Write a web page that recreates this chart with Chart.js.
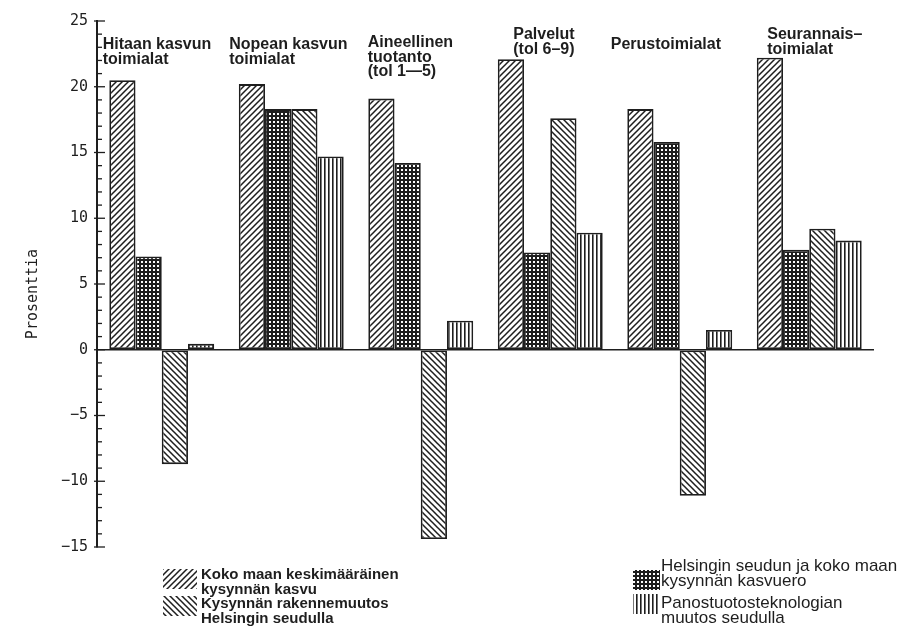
<!DOCTYPE html>
<html>
<head>
<meta charset="utf-8">
<script src="https://cdn.jsdelivr.net/npm/chart.js@4.4.0/dist/chart.umd.min.js"></script>
<style>
  body { margin: 0; background: #fff; }
  #wrap { width: 907px; height: 627px; position: relative; }
</style>
</head>
<body>
<div id="wrap"><canvas id="chart"></canvas></div>
<script>
// group labels (multi-line)
const categories = [
  ['Hitaan kasvun', 'toimialat'],
  ['Nopean kasvun', 'toimialat'],
  ['Aineellinen', 'tuotanto', '(tol 1\u20145)'],
  ['Palvelut', '(tol 6\u20139)'],
  ['Perustoimialat'],
  ['Seurannais\u2013', 'toimialat']
];

// series values, percent
const kokoMaa  = [20.5, 20.2, 19.1, 22.1, 18.3, 22.2];
const kasvuero = [7.1, 18.3, 14.2, 7.4, 15.8, 7.6];
const rakenne  = [-8.7, 18.3, -14.4, 17.6, -11.1, 9.2];
const panos    = [0.45, 14.7, 2.2, 8.9, 1.5, 8.3];

const seriesNames = [
  ['Koko maan keskimääräinen', 'kysynnän kasvu'],
  ['Helsingin seudun ja koko maan', 'kysynnän kasvuero'],
  ['Kysynnän rakennemuutos', 'Helsingin seudulla'],
  ['Panostuotosteknologian', 'muutos seudulla']
];

// label placement relative to group centre
const labelDx = [-59, -62, -53, -37, -69, -42];
const labelTop = [45, 45, 43, 35, 45, 35];

const INK = '#1e1e1e';

function makePattern(kind) {
  const s = 6;
  const c = document.createElement('canvas');
  c.width = s; c.height = s;
  const g = c.getContext('2d');
  g.fillStyle = '#fff';
  g.fillRect(0, 0, s, s);
  g.strokeStyle = INK;
  g.fillStyle = INK;
  g.lineWidth = 1.5;
  if (kind === 'up') {
    g.beginPath();
    g.moveTo(-1, s + 1); g.lineTo(s + 1, -1);
    g.moveTo(-1, 1); g.lineTo(1, -1);
    g.moveTo(s - 1, s + 1); g.lineTo(s + 1, s - 1);
    g.stroke();
  } else if (kind === 'down') {
    g.beginPath();
    g.moveTo(-1, -1); g.lineTo(s + 1, s + 1);
    g.moveTo(s - 1, -1); g.lineTo(s + 1, 1);
    g.moveTo(-1, s - 1); g.lineTo(1, s + 1);
    g.stroke();
  } else if (kind === 'dots') {
    c.width = 4; c.height = 4;
    g.fillStyle = INK;
    g.fillRect(0, 0, 4, 4);
    g.fillStyle = '#fff';
    g.fillRect(1, 1, 2, 2);
  } else if (kind === 'vert') {
    c.width = 4; c.height = 4;
    g.fillStyle = '#fff';
    g.fillRect(0, 0, 4, 4);
    g.fillStyle = INK;
    g.fillRect(0, 0, 1.6, 4);
  }
  return document.getElementById('chart').getContext('2d').createPattern(c, 'repeat');
}

const patterns = [makePattern('up'), makePattern('dots'), makePattern('down'), makePattern('vert')];

const decor = {
  id: 'decor',
  afterDraw(chart) {
    const { ctx, scales: { x, y } } = chart;
    const left = chart.chartArea.left;
    ctx.save();
    // small ticks on the axis
    ctx.strokeStyle = INK;
    ctx.lineWidth = 1.3;
    for (let v = y.min; v <= y.max; v++) {
      const py = y.getPixelForValue(v);
      ctx.beginPath();
      ctx.moveTo(left - (v % 5 === 0 ? 3 : 0), py);
      ctx.lineTo(left + (v % 5 === 0 ? 8 : 5), py);
      ctx.stroke();
    }
    // group titles
    ctx.fillStyle = INK;
    ctx.font = 'bold 16px "Liberation Sans", Arial, sans-serif';
    ctx.textBaseline = 'middle';
    categories.forEach((lines, i) => {
      const px = x.getPixelForValue(i) + labelDx[i];
      lines.forEach((t, k) => ctx.fillText(t, px, labelTop[i] + k * 14.5));
    });
    // y title
    ctx.font = '15px "DejaVu Sans Mono", monospace';
    ctx.translate(33, 294);
    ctx.rotate(-Math.PI / 2);
    ctx.textAlign = 'center';
    ctx.fillText('Prosenttia', 0, 0);
    ctx.restore();

    // legend
    ctx.save();
    const items = [
      { ds: 0, sx: 163, sy: 569, w: 34, tx: 201, ty: 575, bold: true, size: 15 },
      { ds: 2, sx: 163, sy: 596, w: 34, tx: 201, ty: 604, bold: true, size: 15 },
      { ds: 1, sx: 633, sy: 570, w: 27, tx: 661, ty: 566, bold: false, size: 17 },
      { ds: 3, sx: 633, sy: 594, w: 27, tx: 661, ty: 603, bold: false, size: 17 }
    ];
    items.forEach(it => {
      const dset = chart.data.datasets[it.ds];
      ctx.fillStyle = dset.backgroundColor;
      ctx.fillRect(it.sx, it.sy, it.w, 20);
      ctx.fillStyle = INK;
      ctx.font = (it.bold ? 'bold ' : '') + it.size + 'px "Liberation Sans", Arial, sans-serif';
      ctx.textBaseline = 'middle';
      const gap = it.size > 15 ? 15.5 : 14.5;
      seriesNames[it.ds].forEach((t, k) => ctx.fillText(t, it.tx, it.ty + k * gap));
    });
    ctx.restore();
  }
};

const allSeries = [kokoMaa, kasvuero, rakenne, panos];

new Chart(document.getElementById('chart'), {
  type: 'bar',
  data: {
    labels: categories.map(c => c.join(' ')),
    datasets: allSeries.map((vals, i) => ({
      label: seriesNames[i].join(' '),
      data: vals,
      backgroundColor: patterns[i],
      borderColor: INK,
      borderWidth: 1.8,
      borderSkipped: false,
      barPercentage: 1,
      categoryPercentage: 0.81
    }))
  },
  options: {
    responsive: true,
    maintainAspectRatio: false,
    animation: false,
    layout: { padding: { top: 21, right: 33, bottom: 80, left: 0 } },
    plugins: { legend: { display: false }, tooltip: { enabled: false } },
    scales: {
      x: { display: false },
      y: {
        min: -15,
        max: 25,
        afterFit(scale) { scale.width = 97; },
        ticks: {
          stepSize: 5,
          color: INK,
          padding: 9,
          font: { family: '"DejaVu Sans Mono", monospace', size: 15 },
          callback: v => String(v).replace('-', '\u2212')
        },
        border: { display: true, color: INK, width: 2 },
        grid: {
          drawTicks: false,
          color: ctx => ctx.tick && ctx.tick.value === 0 ? INK : 'rgba(0,0,0,0)',
          lineWidth: 1.6
        }
      }
    }
  },
  plugins: [decor]
});
</script>
</body>
</html>
